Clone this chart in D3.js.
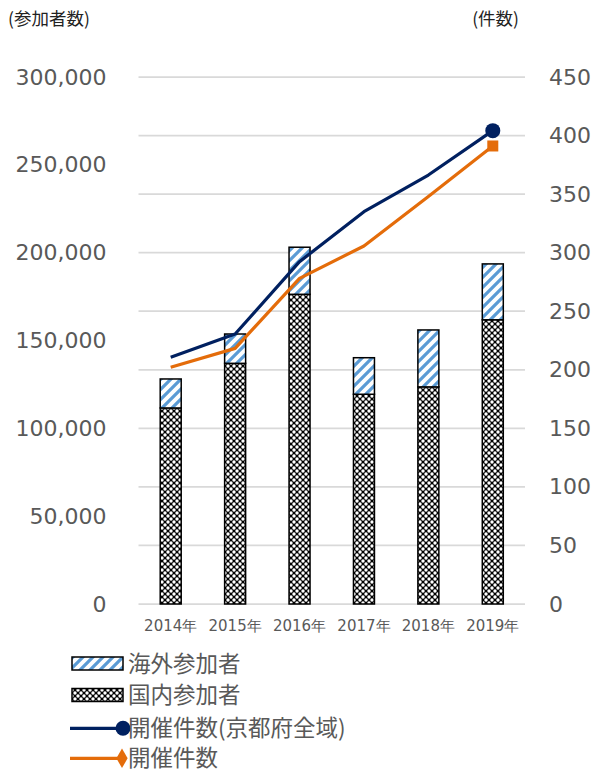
<!DOCTYPE html>
<html><head><meta charset="utf-8">
<script src="https://cdn.jsdelivr.net/npm/d3@7"></script>
<style>
body{margin:0;background:#fff;}
svg{display:block;}
</style></head><body>
<svg id="c" width="595" height="774"></svg>
<script>
const years = ["2014年","2015年","2016年","2017年","2018年","2019年"];
const domestic = [111600, 137000, 176300, 119400, 123600, 161800];
const overseas = [16500, 16700, 26800, 20800, 32400, 31800];
const eventsKyoto = [210.7, 230.5, 292.3, 335.0, 366.3, 404.2];
const events = [202.1, 218.3, 278.1, 305.7, 348.0, 391.1];
const leftTicks = [0,50000,100000,150000,200000,250000,300000];
const rightTicks = [0,50,100,150,200,250,300,350,400,450];
const legendLabels = ["海外参加者","国内参加者","開催件数(京都府全域)","開催件数"];
const axisTitles = ["(参加者数)","(件数)"];

const svg = d3.select("#c");
const L = 138.5, R = 525, T = 77, B = 604;
const navy = "#002060", orange = "#E46C0A", blue = "#5B9BD5", grid = "#d9d9d9", txt = "#595959";
const numFont = "'DejaVu Sans', Verdana, sans-serif";
const cjkFont = "'Noto Sans CJK JP', 'DejaVu Sans', sans-serif";

const defs = svg.append("defs");
const hp = defs.append("pattern").attr("id","hatch").attr("patternUnits","userSpaceOnUse")
  .attr("width",10).attr("height",10);
hp.append("rect").attr("width",10).attr("height",10).attr("fill","#fff");
hp.append("path").attr("d","M-3,3 L3,-3 M0,10 L10,0 M7,13 L13,7").attr("stroke",blue).attr("stroke-width",3.2);
const dp = defs.append("pattern").attr("id","dots").attr("patternUnits","userSpaceOnUse")
  .attr("width",6).attr("height",6);
dp.append("rect").attr("width",6).attr("height",6).attr("fill","#000");
[[0,0],[6,0],[0,6],[6,6],[3,3]].forEach(p=>dp.append("circle").attr("cx",p[0]).attr("cy",p[1]).attr("r",1.7).attr("fill","#fff"));

const x = d3.scaleBand().domain(years).range([L,R]).paddingInner(0.674).paddingOuter(0.337);
const yL = d3.scaleLinear().domain([0,300000]).range([B,T]);
const yR = d3.scaleLinear().domain([0,450]).range([B,T]);

// gridlines
svg.append("g").selectAll("line").data(rightTicks).join("line")
  .attr("x1",L).attr("x2",R).attr("y1",d=>yR(d)).attr("y2",d=>yR(d))
  .attr("stroke",grid).attr("stroke-width",1.75);

// axes
const gl = svg.append("g").attr("transform",`translate(${L},0)`)
  .call(d3.axisLeft(yL).tickValues(leftTicks).tickFormat(d3.format(",")).tickSize(0).tickPadding(32));
gl.select(".domain").remove();
gl.selectAll("text").attr("fill",txt).style("font-family",numFont).style("font-size","22px");

const gr = svg.append("g").attr("transform",`translate(${R},0)`)
  .call(d3.axisRight(yR).tickValues(rightTicks).tickSize(0).tickPadding(24));
gr.select(".domain").remove();
gr.selectAll("text").attr("fill",txt).style("font-family",numFont).style("font-size","22px");

const gx = svg.append("g").attr("transform",`translate(0,${B})`)
  .call(d3.axisBottom(x).tickSize(0).tickPadding(16));
gx.select(".domain").remove();
gx.selectAll("text").attr("fill",txt).style("font-family",numFont).style("font-size","15px");

// bars
const bw = x.bandwidth();
const bars = svg.append("g");
years.forEach((yr,i)=>{
  bars.append("rect").attr("x",x(yr)).attr("width",bw)
    .attr("y",yL(domestic[i])).attr("height",yL(0)-yL(domestic[i]))
    .attr("fill","url(#dots)").attr("stroke","#000").attr("stroke-width",1.5);
  bars.append("rect").attr("x",x(yr)).attr("width",bw)
    .attr("y",yL(domestic[i]+overseas[i])).attr("height",yL(domestic[i])-yL(domestic[i]+overseas[i]))
    .attr("fill","url(#hatch)").attr("stroke","#000").attr("stroke-width",1.5);
});

// lines
const cx = d => x(d)+bw/2;
const line = d3.line().x((d,i)=>cx(years[i])).y(d=>yR(d));
svg.append("path").datum(eventsKyoto).attr("d",line).attr("fill","none")
  .attr("stroke",navy).attr("stroke-width",3.2).attr("stroke-linejoin","round");
svg.append("path").datum(events).attr("d",line).attr("fill","none")
  .attr("stroke",orange).attr("stroke-width",3.2).attr("stroke-linejoin","round");
const last = years.length-1;
svg.append("circle").attr("cx",cx(years[last])).attr("cy",yR(eventsKyoto[last])).attr("r",7.5).attr("fill",navy);
svg.append("rect").attr("x",cx(years[last])-5.5).attr("y",yR(events[last])-5.5)
  .attr("width",11).attr("height",11).attr("fill",orange);

// axis titles
svg.append("text").attr("x",8).attr("y",25).text(axisTitles[0])
  .style("font-family",cjkFont).style("font-size","17.5px").attr("fill","#222");
svg.append("text").attr("x",519).attr("y",25).attr("text-anchor","end").text(axisTitles[1])
  .style("font-family",cjkFont).style("font-size","17.5px").attr("fill","#222");

// legend
const lg = svg.append("g");
const rows = [663.5, 695, 728.3, 758.3];
lg.append("rect").attr("x",72).attr("y",rows[0]-6.5).attr("width",51).attr("height",13)
  .attr("fill","url(#hatch)").attr("stroke","#000").attr("stroke-width",1.5);
lg.append("rect").attr("x",72).attr("y",rows[1]-6.5).attr("width",51).attr("height",13)
  .attr("fill","url(#dots)").attr("stroke","#000").attr("stroke-width",1.5);
lg.append("line").attr("x1",70).attr("x2",123).attr("y1",rows[2]).attr("y2",rows[2]).attr("stroke",navy).attr("stroke-width",3.2);
lg.append("circle").attr("cx",123).attr("cy",rows[2]).attr("r",7.5).attr("fill",navy);
lg.append("line").attr("x1",70).attr("x2",122).attr("y1",rows[3]).attr("y2",rows[3]).attr("stroke",orange).attr("stroke-width",3.2);
lg.append("path").attr("d",d3.symbol(d3.symbolDiamond,110)()).attr("transform",`translate(122,${rows[3]})`).attr("fill",orange);
legendLabels.forEach((t,i)=>{
  lg.append("text").attr("x",128).attr("y",rows[i]).attr("dy","0.36em").text(t)
    .style("font-family",cjkFont).style("font-size","22.5px").attr("fill",txt);
});
</script>
</body></html>
